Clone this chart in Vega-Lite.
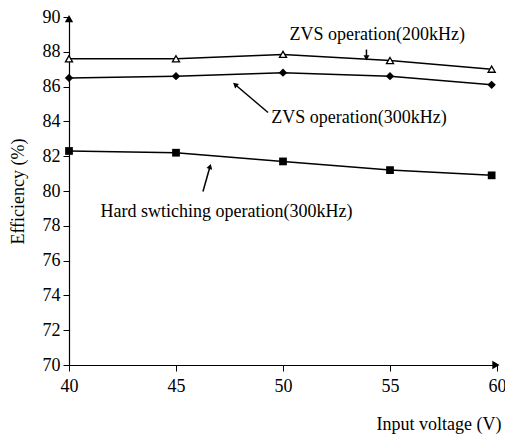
{
  "$schema": "https://vega.github.io/schema/vega-lite/v6.json",
  "width": 428,
  "height": 348,
  "autosize": "none",
  "padding": {"left": 69, "top": 17, "right": 8, "bottom": 73},
  "background": "white",
  "config": {
    "font": "Liberation Serif",
    "view": {"stroke": null},
    "axis": {"grid": false, "domainColor": "black", "tickColor": "black", "labelColor": "black", "titleColor": "black", "labelFont": "Liberation Serif", "titleFont": "Liberation Serif", "labelFontSize": 18, "titleFontSize": 18, "titleFontWeight": "normal", "domainWidth": 1.2, "tickWidth": 1, "labelOverlap": false, "labelFlush": false}
  },
  "datasets": {
    "series": [
      {"voltage": 40, "efficiency": 87.6, "series": "ZVS 200kHz"},
      {"voltage": 45, "efficiency": 87.6, "series": "ZVS 200kHz"},
      {"voltage": 50, "efficiency": 87.85, "series": "ZVS 200kHz"},
      {"voltage": 55, "efficiency": 87.5, "series": "ZVS 200kHz"},
      {"voltage": 59.75, "efficiency": 87.0, "series": "ZVS 200kHz"},
      {"voltage": 40, "efficiency": 86.5, "series": "ZVS 300kHz"},
      {"voltage": 45, "efficiency": 86.6, "series": "ZVS 300kHz"},
      {"voltage": 50, "efficiency": 86.8, "series": "ZVS 300kHz"},
      {"voltage": 55, "efficiency": 86.6, "series": "ZVS 300kHz"},
      {"voltage": 59.75, "efficiency": 86.1, "series": "ZVS 300kHz"},
      {"voltage": 40, "efficiency": 82.3, "series": "Hard 300kHz"},
      {"voltage": 45, "efficiency": 82.2, "series": "Hard 300kHz"},
      {"voltage": 50, "efficiency": 81.7, "series": "Hard 300kHz"},
      {"voltage": 55, "efficiency": 81.2, "series": "Hard 300kHz"},
      {"voltage": 59.75, "efficiency": 80.9, "series": "Hard 300kHz"}
    ],
    "labels": [
      {"voltage": 54.4, "efficiency": 88.94, "text": "ZVS operation(200kHz)"},
      {"voltage": 53.55, "efficiency": 84.17, "text": "ZVS operation(300kHz)"},
      {"voltage": 47.36, "efficiency": 78.82, "text": "Hard swtiching operation(300kHz)"}
    ],
    "arrows": [
      {"id": "a200", "voltage": 53.9, "efficiency": 88.13, "voltage2": 53.9, "efficiency2": 87.65},
      {"id": "a300", "voltage": 49.3, "efficiency": 84.51, "voltage2": 47.76, "efficiency2": 86.12},
      {"id": "ahard", "voltage": 46.26, "efficiency": 79.97, "voltage2": 46.59, "efficiency2": 81.41},
      {"id": "top", "voltage": 40, "efficiency": 89.9, "voltage2": 40, "efficiency2": 89.9},
      {"id": "right", "voltage": 59.95, "efficiency": 70, "voltage2": 59.95, "efficiency2": 70}
    ]
  },
  "encoding": {
    "x": {"field": "voltage", "type": "quantitative", "scale": {"domain": [40, 60], "nice": false, "zero": false},
      "axis": {"values": [40, 45, 50, 55, 60], "title": "Input voltage (V)", "tickSize": 6, "labelPadding": 6, "titleAnchor": "end", "titleAlign": "right", "titleX": 432, "titleY": 50, "titleBaseline": "top"}},
    "y": {"field": "efficiency", "type": "quantitative", "scale": {"domain": [70, 90], "nice": false, "zero": false},
      "axis": {"values": [70, 72, 74, 76, 78, 80, 82, 84, 86, 88, 90], "tickCount": 11, "title": "Efficiency (%)", "tickSize": 6, "labelPadding": 3, "titleX": -51, "titleY": 174, "titleAlign": "center", "titleBaseline": "middle"}}
  },
  "layer": [
    {
      "data": {"name": "series"},
      "mark": {"type": "line", "color": "black", "strokeWidth": 1.5},
      "encoding": {"detail": {"field": "series"}}
    },
    {
      "data": {"name": "series"},
      "transform": [{"filter": "datum.series === 'ZVS 200kHz'"}],
      "mark": {"type": "point", "shape": "triangle-up", "filled": true, "fill": "white", "stroke": "black", "strokeWidth": 1.3, "size": 50, "opacity": 1}
    },
    {
      "data": {"name": "series"},
      "transform": [{"filter": "datum.series === 'ZVS 300kHz'"}],
      "mark": {"type": "point", "shape": "diamond", "filled": true, "color": "black", "size": 70, "opacity": 1}
    },
    {
      "data": {"name": "series"},
      "transform": [{"filter": "datum.series === 'Hard 300kHz'"}],
      "mark": {"type": "point", "shape": "square", "filled": true, "color": "black", "size": 60, "opacity": 1}
    },
    {
      "data": {"name": "labels"},
      "mark": {"type": "text", "font": "Liberation Serif", "fontSize": 18, "color": "black", "align": "center", "baseline": "middle"},
      "encoding": {"text": {"field": "text"}}
    },
    {
      "data": {"name": "arrows"},
      "transform": [{"filter": "datum.id !== 'top' && datum.id !== 'right'"}],
      "mark": {"type": "rule", "color": "black", "strokeWidth": 1.5},
      "encoding": {"x2": {"field": "voltage2"}, "y2": {"field": "efficiency2"}}
    },
    {
      "data": {"name": "arrows"},
      "transform": [{"filter": "datum.id === 'a200'"}],
      "mark": {"type": "point", "shape": "triangle-up", "angle": 180, "filled": true, "color": "black", "size": 35, "opacity": 1},
      "encoding": {"x": {"field": "voltage2", "type": "quantitative"}, "y": {"field": "efficiency2", "type": "quantitative"}}
    },
    {
      "data": {"name": "arrows"},
      "transform": [{"filter": "datum.id === 'a300'"}],
      "mark": {"type": "point", "shape": "triangle-up", "angle": 310, "filled": true, "color": "black", "size": 35, "opacity": 1},
      "encoding": {"x": {"field": "voltage2", "type": "quantitative"}, "y": {"field": "efficiency2", "type": "quantitative"}}
    },
    {
      "data": {"name": "arrows"},
      "transform": [{"filter": "datum.id === 'ahard'"}],
      "mark": {"type": "point", "shape": "triangle-up", "angle": 16, "filled": true, "color": "black", "size": 35, "opacity": 1},
      "encoding": {"x": {"field": "voltage2", "type": "quantitative"}, "y": {"field": "efficiency2", "type": "quantitative"}}
    },
    {
      "data": {"name": "arrows"},
      "transform": [{"filter": "datum.id === 'top'"}],
      "mark": {"type": "point", "shape": "triangle-up", "filled": true, "color": "black", "size": 70, "opacity": 1},
      "encoding": {"x": {"field": "voltage2", "type": "quantitative"}, "y": {"field": "efficiency2", "type": "quantitative"}}
    },
    {
      "data": {"name": "arrows"},
      "transform": [{"filter": "datum.id === 'right'"}],
      "mark": {"type": "point", "shape": "triangle-up", "angle": 90, "filled": true, "color": "black", "size": 70, "opacity": 1},
      "encoding": {"x": {"field": "voltage2", "type": "quantitative"}, "y": {"field": "efficiency2", "type": "quantitative"}}
    }
  ]
}
